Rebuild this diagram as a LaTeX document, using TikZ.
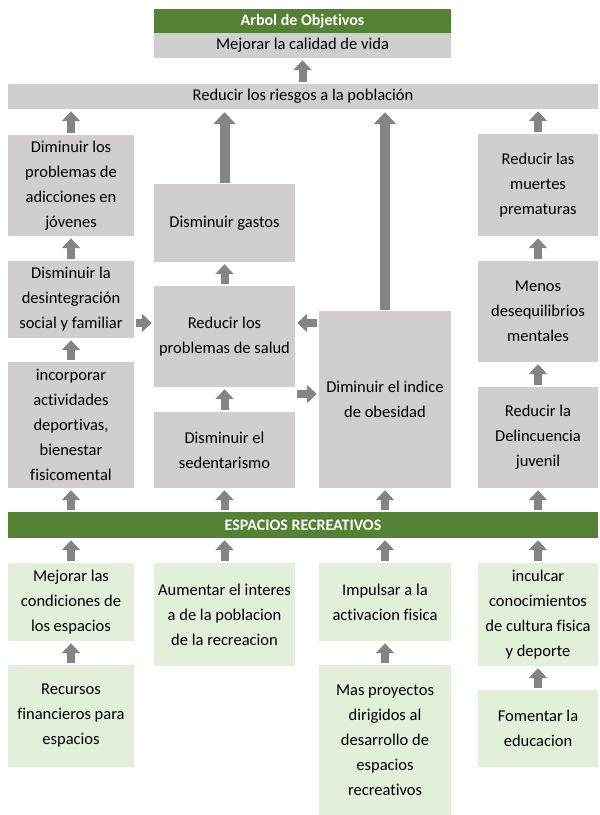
\documentclass[tikz,border=0pt]{standalone}
\usepackage{fontspec}
\setmainfont{Carlito}[Ligatures=NoCommon]
\usepackage{xcolor}
\usepackage{tikz}
\usetikzlibrary{arrows.meta, positioning, calc}

\definecolor{boxgray}{RGB}{208,206,206}
\definecolor{bargreen}{RGB}{84,130,53}
\definecolor{palegreen}{RGB}{226,239,218}
\definecolor{arrowgray}{RGB}{132,132,132}

\begin{document}
\begin{tikzpicture}[
x=1pt, y=-1pt,
every node/.style={font=\fontsize{16.5}{25}\selectfont, inner sep=0pt, align=center},
graybox/.style={fill=boxgray},
greenbox/.style={fill=palegreen},
bar/.style={fill=bargreen, text=white, font=\fontsize{16}{18}\selectfont\bfseries},
leftcol/.style={minimum width=126pt},
midcol/.style={minimum width=141pt},
obecol/.style={minimum width=132pt},
rightcol/.style={minimum width=120pt},
uparrow/.style={draw=arrowgray, line width=8pt, -{Triangle[width=18pt,length=10pt]}, shorten <=2pt, shorten >=2pt},
longarrow/.style={draw=arrowgray, line width=10pt, -{Triangle[width=22pt,length=12pt]}, shorten <=1pt, shorten >=3pt}
]
\useasboundingbox (0,0) rectangle (600,815);

% top
\node[bar, minimum width=297pt, minimum height=24pt] (title) at (302.5,21) {Arbol de Objetivos};
\node[graybox, minimum width=297pt, minimum height=25pt] (mejorar) at (302.5,45.5) {Mejorar la calidad de vida};
\node[graybox, minimum width=590pt, minimum height=25pt] (riesgos) at (303,96.5) {Reducir los riesgos a la población};

% left column
\node[graybox, leftcol, minimum height=101pt] (adicc) at (71,185.5)
{Diminuir los\\problemas de\\adicciones en\\jóvenes};
\node[graybox, leftcol, minimum height=77pt] (desint) at (71,299.5)
{Disminuir la\\desintegración\\social y familiar};
\node[graybox, leftcol, minimum height=126pt] (incorp) at (71,425)
{incorporar\\actividades\\deportivas,\\bienestar\\fisicomental};

% middle column
\node[graybox, midcol, minimum height=78pt] (gastos) at (224.5,223) {Disminuir gastos};
\node[graybox, midcol, minimum height=101pt] (salud) at (224.5,336.5)
{Reducir los\\problemas de salud};
\node[graybox, midcol, minimum height=76pt] (sedent) at (224.5,450)
{Disminuir el\\sedentarismo};

% obesity column
\node[graybox, obecol, minimum height=177pt] (obes) at (385,399.5)
{Diminuir el indice\\de obesidad};

% right column
\node[graybox, rightcol, minimum height=102pt] (muertes) at (538,185)
{Reducir las\\muertes\\prematuras};
\node[graybox, rightcol, minimum height=101pt] (deseq) at (538,311.5)
{Menos\\desequilibrios\\mentales};
\node[graybox, rightcol, minimum height=101pt] (delinc) at (538,437.5)
{Reducir la\\Delincuencia\\juvenil};

% root bar
\node[bar, minimum width=590pt, minimum height=26pt] (espacios) at (303,525) {ESPACIOS RECREATIVOS};

% bottom boxes
\node[greenbox, leftcol, minimum height=78pt] (condic) at (71,602)
{Mejorar las\\condiciones de\\los espacios};
\node[greenbox, leftcol, minimum height=102pt] (recursos) at (71,716)
{Recursos\\financieros para\\espacios};
\node[greenbox, midcol, minimum height=103pt] (interes) at (224.5,614.5)
{Aumentar el interes\\a de la poblacion\\de la recreacion};
\node[greenbox, obecol, minimum height=78pt] (impulsar) at (385,602)
{Impulsar a la\\activacion fisica};
\node[greenbox, obecol, minimum height=150pt] (proyectos) at (385,740)
{Mas proyectos\\dirigidos al\\desarrollo de\\espacios\\recreativos};
\node[greenbox, rightcol, minimum height=103pt] (inculcar) at (538,614.5)
{inculcar\\conocimientos\\de cultura fisica\\y deporte};
\node[greenbox, rightcol, minimum height=77pt] (fomentar) at (538,728.5)
{Fomentar la\\educacion};

\coordinate (midrow) at (0,323);
\coordinate (lowrow) at (0,394);

% arrows to the top
\draw[uparrow] (mejorar.south |- riesgos.north) -- (mejorar.south);
\draw[uparrow] (adicc.north) -- (adicc.north |- riesgos.south);
\draw[longarrow] (gastos.north) -- (gastos.north |- riesgos.south);
\draw[longarrow] (obes.north) -- (obes.north |- riesgos.south);
\draw[uparrow] (muertes.north) -- (muertes.north |- riesgos.south);

% columns
\draw[uparrow] (desint.north) -- (adicc.south);
\draw[uparrow] (incorp.north) -- (desint.south);
\draw[uparrow] (salud.north) -- (gastos.south);
\draw[uparrow] (sedent.north) -- (salud.south);
\draw[uparrow] (deseq.north) -- (muertes.south);
\draw[uparrow] (delinc.north) -- (deseq.south);

% side arrows
\draw[uparrow] (desint.east |- midrow) -- (salud.west |- midrow);
\draw[uparrow] (obes.west |- midrow) -- (salud.east |- midrow);
\draw[uparrow] (salud.east |- lowrow) -- (obes.west |- lowrow);

% from the root bar
\draw[uparrow] (incorp.south |- espacios.north) -- (incorp.south);
\draw[uparrow] (sedent.south |- espacios.north) -- (sedent.south);
\draw[uparrow] (obes.south |- espacios.north) -- (obes.south);
\draw[uparrow] (delinc.south |- espacios.north) -- (delinc.south);

% into the root bar
\draw[uparrow] (condic.north) -- (condic.north |- espacios.south);
\draw[uparrow] (interes.north) -- (interes.north |- espacios.south);
\draw[uparrow] (impulsar.north) -- (impulsar.north |- espacios.south);
\draw[uparrow] (inculcar.north) -- (inculcar.north |- espacios.south);
\draw[uparrow] (recursos.north) -- (condic.south);
\draw[uparrow] (proyectos.north) -- (impulsar.south);
\draw[uparrow] (fomentar.north) -- (inculcar.south);

\end{tikzpicture}
\end{document}
